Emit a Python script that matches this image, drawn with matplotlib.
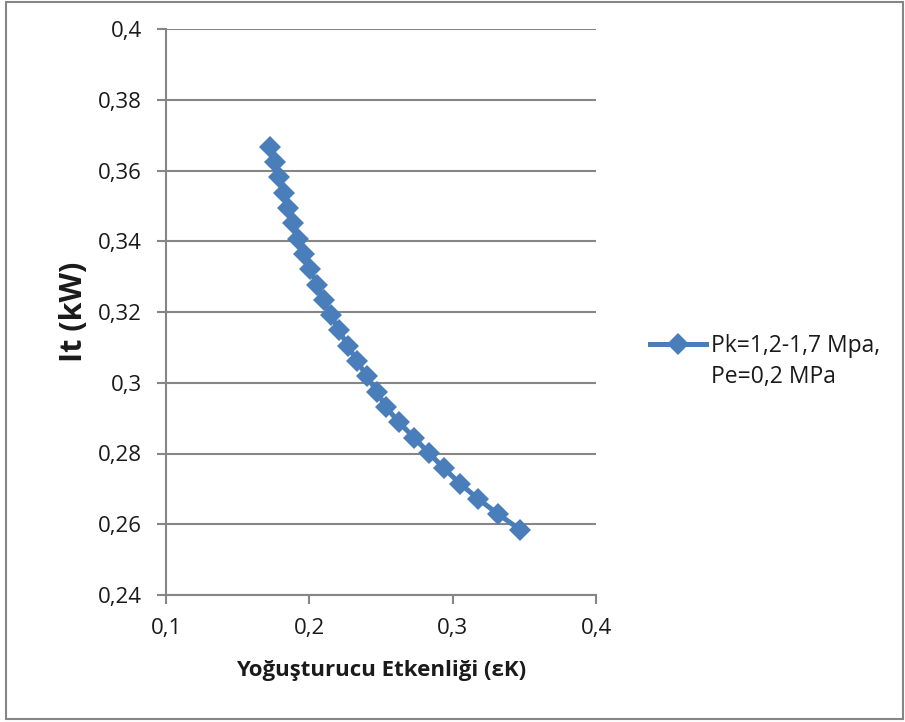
import matplotlib
matplotlib.use("Agg")
import matplotlib.pyplot as plt
from matplotlib.patches import Rectangle
from matplotlib.lines import Line2D

# Yoğuşturucu etkenliği (eps K) ve It (kW), Pk=1,2-1,7 MPa, Pe=0,2 MPa
eps_k = [0.1726, 0.1757, 0.1788, 0.1820, 0.1851, 0.1886, 0.1921, 0.1963,
         0.2005, 0.2054, 0.2099, 0.2151, 0.2207, 0.2270, 0.2333, 0.2402,
         0.2472, 0.2535, 0.2626, 0.2730, 0.2835, 0.2940, 0.3051, 0.3177,
         0.3316, 0.3470]
it_kw = [0.3667, 0.3624, 0.3581, 0.3537, 0.3494, 0.3451, 0.3407, 0.3364,
         0.3321, 0.3277, 0.3234, 0.3191, 0.3148, 0.3104, 0.3061, 0.3018,
         0.2975, 0.2931, 0.2888, 0.2845, 0.2801, 0.2758, 0.2715, 0.2672,
         0.2629, 0.2585]

x_ticks = [0.1, 0.2, 0.3, 0.4]
y_ticks = [0.24, 0.26, 0.28, 0.30, 0.32, 0.34, 0.36, 0.38, 0.40]
x_labels = ["0,1", "0,2", "0,3", "0,4"]
y_labels = ["0,24", "0,26", "0,28", "0,3", "0,32", "0,34", "0,36", "0,38", "0,4"]

legend_line1 = "Pk=1,2-1,7 Mpa,"
legend_line2 = "Pe=0,2 MPa"

blue = "#4A7EBB"
gray = "#868686"
txt = "#1a1a1a"
plt.rcParams['font.family'] = ['Open Sans', 'DejaVu Sans']

fig = plt.figure(figsize=(9.05, 7.22), dpi=100)
ax = fig.add_axes([166 / 905, 1 - 595 / 722, 430 / 905, 566 / 722])

ax.plot(eps_k, it_kw, color=blue, linewidth=3.6, marker='D', markersize=11,
        markeredgewidth=0, zorder=3)

ax.set_xlim(0.1, 0.4)
ax.set_ylim(0.24, 0.40)
ax.set_xticks(x_ticks)
ax.set_xticklabels(x_labels)
ax.set_yticks(y_ticks)
ax.set_yticklabels(y_labels)
ax.tick_params(axis='both', labelsize=16, colors=gray, labelcolor=txt,
               length=6.5, width=1.5, direction='out')
ax.tick_params(axis='y', pad=11)
ax.tick_params(axis='x', pad=10)
ax.grid(axis='y', color=gray, linewidth=1.5)
ax.set_axisbelow(True)
for side in ['top', 'right']:
    ax.spines[side].set_visible(False)
for side in ['left', 'bottom']:
    ax.spines[side].set_color(gray)
    ax.spines[side].set_linewidth(1.5)

ax.set_ylabel("It (kW)", fontsize=22, fontweight='bold', labelpad=6, color=txt)
ax.set_xlabel("Yoğuşturucu Etkenliği (εK)", fontsize=16, fontweight='bold',
              labelpad=15, color=txt)

# legend: handle aligned with the first line, like the source
handle = Line2D([0], [0], color=blue, linewidth=3.6, marker='D', markersize=11,
                markeredgewidth=0)
leg = ax.legend([handle], [legend_line1], loc='upper left',
                bbox_to_anchor=(650 / 905, 1 - 334 / 722),
                bbox_transform=fig.transFigure, frameon=False, fontsize=16.5,
                handlelength=2.45, handletextpad=0.2, borderpad=0,
                borderaxespad=0, labelcolor=txt)
fig.text(711 / 905, 1 - 383 / 722, legend_line2, fontsize=16.5,
         va='baseline', ha='left', color=txt)

fig.patches.append(Rectangle((6 / 905, 3 / 722), 897 / 905, 717 / 722,
                             transform=fig.transFigure, fill=False,
                             edgecolor=gray, linewidth=1.5))

fig.savefig("out.png", dpi=100, facecolor='white')
